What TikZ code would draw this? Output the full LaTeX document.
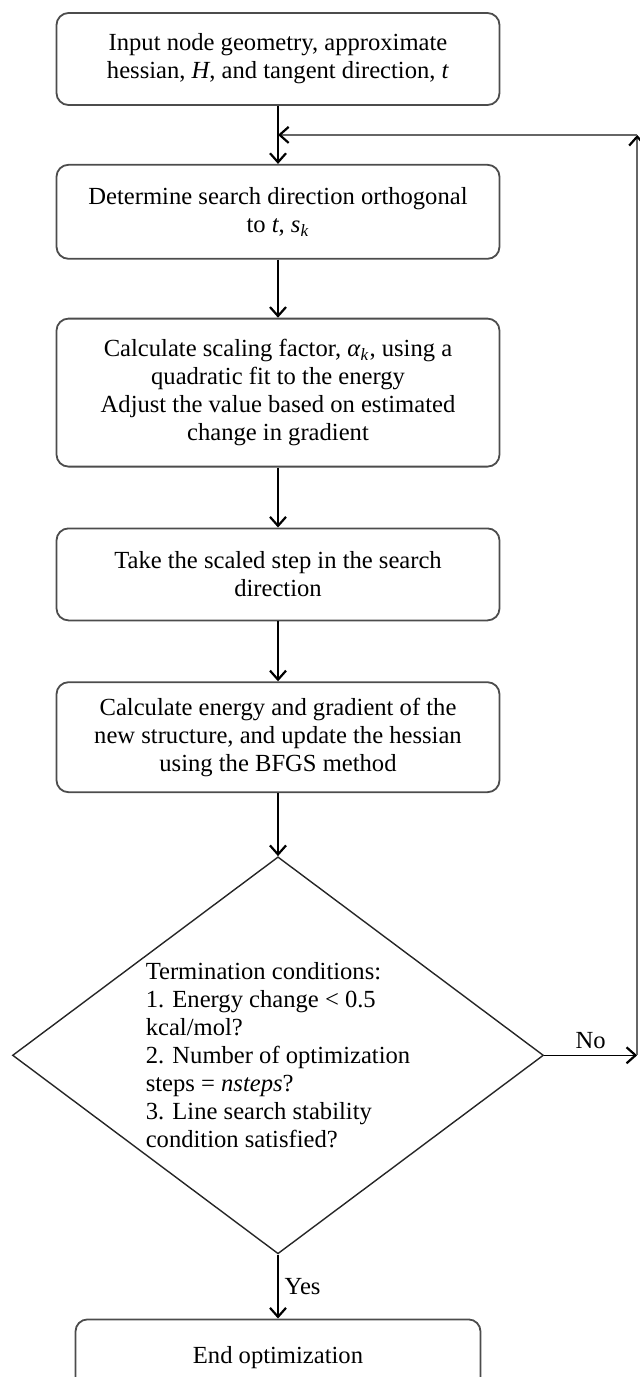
\documentclass[tikz,border=0pt]{standalone}
\usepackage{fontspec}
\setmainfont{Liberation Serif}
\usepackage{tikz}
\usetikzlibrary{positioning, shapes.geometric, arrows.meta}

\begin{document}
\begin{tikzpicture}[node distance=30pt,auto,font=\fontsize{12.3}{14}\selectfont]
            \tikzset{stepbox/.style={draw=black!70,line width=0.9pt,rounded corners=6pt,minimum width=221.5pt,align=center,inner sep=0pt}}
            \tikzset{testbox/.style={draw=black!85,line width=0.7pt,diamond,aspect=1.34,minimum width=265.5pt,minimum height=198.5pt,inner sep=0pt,align=left}}
            \tikzset{flow/.style={line width=0.7pt,-{Straight Barb[length=4.5pt,width=8pt,line width=1.1pt,color=black]}}}
            \tikzset{back/.style={flow,draw=black!60,line width=1pt}}
            \tikzset{answer/.style={midway,inner sep=3pt}}

            \useasboundingbox (0,0) rectangle (319.5pt,-688.5pt);

            \node[stepbox,minimum height=46pt] (init) at (139pt,-29.5pt) {Input node geometry, approximate\\hessian, \textit{H}, and tangent direction, \textit{t}};
            \node[stepbox,minimum height=47pt] (dir) [below = 29pt of init] {Determine search direction orthogonal\\to \textit{t}, \textit{s}\textsubscript{\textit{k}}};
            \node[stepbox,minimum height=74pt] (scale) [below = 29pt of dir] {Calculate scaling factor, \textit{α}\textsubscript{\textit{k}}, using a\\quadratic fit to the energy\\Adjust the value based on estimated\\change in gradient};
            \node[stepbox,minimum height=46pt] (take) [below = of scale] {Take the scaled step in the search\\direction};
            \node[stepbox,minimum height=55pt] (update) [below = of take] {Calculate energy and gradient of the\\new structure, and update the hessian\\using the BFGS method};
            \node[testbox] (term) [below = 31.5pt of update] {Termination conditions:\\1. Energy change < 0.5\\kcal/mol?\\2. Number of optimization\\steps = \textit{nsteps}?\\3. Line search stability\\condition satisfied?};
            \node[stepbox,minimum width=202.5pt,minimum height=38pt] (stop) [below = 32pt of term] {End optimization};

            \coordinate[below = 14.5pt of init] (join);
            \coordinate[right = 46.5pt of term.east] (nocorner);
            \coordinate (upcorner) at (nocorner |- join);

            \draw[flow] (init) -- (dir);
            \draw[flow] (dir) -- (scale);
            \draw[flow] (scale) -- (take);
            \draw[flow] (take) -- (update);
            \draw[flow] (update) -- (term);
            \draw[flow] (term) -- node[answer,right] {Yes} (stop);

            \draw[flow] (term.east) -- node[answer,above] {No} (nocorner);
            \draw[back] (nocorner) -- (upcorner);
            \draw[back] (upcorner) -- (join);

        \end{tikzpicture}
\end{document}
